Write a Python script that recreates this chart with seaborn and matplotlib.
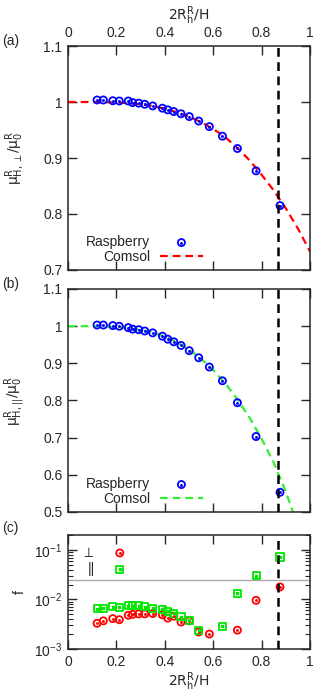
"""Raspberry vs Comsol hydrodynamic mobility of a confined raspberry particle."""
import matplotlib

matplotlib.use("Agg")
import matplotlib.pyplot as plt
import numpy as np
import seaborn as sns
from matplotlib.legend_handler import HandlerTuple

sns.set_style("ticks")
plt.rcParams.update({
    "font.family": ["Liberation Sans", "DejaVu Sans"],
    "font.size": 10,
    "mathtext.fontset": "dejavusans",
    "axes.linewidth": 1.1,
    "xtick.direction": "in",
    "ytick.direction": "in",
    "xtick.major.size": 6.5,
    "ytick.major.size": 6.5,
    "xtick.minor.size": 3.5,
    "ytick.minor.size": 3.5,
    "xtick.major.width": 1.0,
    "ytick.major.width": 1.0,
    "ytick.minor.width": 0.8,
    "xtick.major.pad": 4,
    "ytick.major.pad": 4,
})

BLUE = "#0000ff"
RED = "#ff0000"
GREEN = "#00e600"
LIGHT_GREEN = "#33ee33"

# --- data -----------------------------------------------------------------
ratio = [0.12, 0.146, 0.185, 0.212, 0.249, 0.267, 0.292, 0.317, 0.35, 0.39,
         0.412, 0.437, 0.467, 0.501, 0.54, 0.584, 0.638, 0.70, 0.777, 0.876]
mu_perp = [1.0036, 1.0036, 1.0023, 1.0018, 1.0018, 0.999, 0.998, 0.996, 0.993, 0.989,
           0.986, 0.983, 0.979, 0.974, 0.966, 0.956, 0.939, 0.917, 0.877, 0.815]
mu_par = [1.003, 1.003, 1.0015, 0.9997, 0.996, 0.992, 0.9905, 0.987, 0.982, 0.973,
          0.965, 0.958, 0.948, 0.934, 0.915, 0.890, 0.853, 0.794, 0.703, 0.553]
f_perp = [0.0033, 0.0037, 0.0041, 0.0039, 0.0048, 0.0050, 0.0051, 0.0051, 0.0052, 0.0049,
          0.0042, 0.0046, 0.0035, 0.0037, 0.0022, 0.0020, np.nan, 0.0024, 0.0096, 0.0179]
f_par = [0.0065, 0.0067, 0.0071, 0.0070, 0.0075, 0.0074, 0.0074, 0.0072, 0.0067, 0.0063,
         0.0058, 0.0053, 0.0045, 0.0038, 0.0024, np.nan, 0.0029, 0.0133, 0.030, 0.072]

comsol_x = [0.0, 0.05, 0.1, 0.15, 0.2, 0.25, 0.3, 0.35, 0.4, 0.45, 0.5,
            0.55, 0.6, 0.65, 0.7, 0.75, 0.8, 0.85, 0.9, 0.95, 1.0]
comsol_perp = [1.0, 1.0, 1.0, 0.9997, 0.999, 0.998, 0.996, 0.993, 0.988, 0.982, 0.974,
               0.964, 0.952, 0.937, 0.918, 0.896, 0.870, 0.842, 0.810, 0.774, 0.733]
comsol_par = [1.0, 1.0, 0.9998, 0.999, 0.998, 0.995, 0.990, 0.983, 0.972, 0.957, 0.937,
              0.912, 0.882, 0.846, 0.803, 0.754, 0.697, 0.633, 0.555, 0.46, 0.36]

x_limit = 0.866      # dashed vertical marker
f_threshold = 0.025  # grey horizontal reference

xticks = [0, 0.2, 0.4, 0.6, 0.8, 1]
xticklabels = ["0", "0.2", "0.4", "0.6", "0.8", "1"]
yticks_a = [0.7, 0.8, 0.9, 1.0, 1.1]
yticklabels_a = ["0.7", "0.8", "0.9", "1", "1.1"]
yticks_b = [0.5, 0.6, 0.7, 0.8, 0.9, 1.0, 1.1]
yticklabels_b = ["0.5", "0.6", "0.7", "0.8", "0.9", "1", "1.1"]

XLABEL = r"$\mathrm{2R^{R}_{h}/H}$"
DASH = (0, (3.5, 2.2))

fig = plt.figure(figsize=(3.13, 6.93), dpi=100)
ax_a = fig.add_axes([0.2173, 0.6104, 0.7732, 0.3232])
ax_b = fig.add_axes([0.2173, 0.2612, 0.7732, 0.3218])
ax_c = fig.add_axes([0.2173, 0.0635, 0.7732, 0.1645])


def mobility_panel(ax, mu, comsol, line_color, yticks, yticklabels, ylabel):
    sns.lineplot(x=comsol_x, y=comsol, color=line_color, lw=1.6, linestyle=DASH,
                 ax=ax, label="Comsol")
    pts = ax.scatter(ratio, mu, s=26, facecolors="none", edgecolors=BLUE,
                     linewidths=1.3, zorder=3)
    dots = ax.scatter(ratio, mu, s=1.2, color=BLUE, zorder=4)
    ax.axvline(x_limit, color="black", lw=1.8, linestyle=DASH, zorder=5)
    ax.set_xlim(0, 1)
    ax.set_ylim(yticks[0], yticks[-1])
    ax.set_xticks(xticks)
    ax.set_yticks(yticks)
    ax.set_yticklabels(yticklabels)
    ax.tick_params(top=True, right=True)
    ax.set_ylabel(ylabel, fontsize=10)
    ax.yaxis.set_label_coords(-0.17, 0.5)
    line = ax.get_lines()[0]
    ax.legend([(pts, dots), line], ["Raspberry", "Comsol"],
              handler_map={tuple: HandlerTuple(ndivide=1)},
              markerfirst=False, frameon=False, loc="lower right",
              bbox_to_anchor=(0.592, -0.01), handlelength=3.1,
              handletextpad=0.7, labelspacing=0.05, borderaxespad=0.2)


mobility_panel(ax_a, mu_perp, comsol_perp, RED, yticks_a, yticklabels_a,
               r"$\mathrm{\mu^{R}_{H,\perp}/\mu^{R}_{0}}$")
ax_a.xaxis.set_label_position("top")
ax_a.tick_params(labeltop=True, labelbottom=False)
ax_a.set_xticklabels(xticklabels)
ax_a.set_xlabel(XLABEL, fontsize=10, labelpad=5)

mobility_panel(ax_b, mu_par, comsol_par, LIGHT_GREEN, yticks_b, yticklabels_b,
               r"$\mathrm{\mu^{R}_{H,||}/\mu^{R}_{0}}$")
ax_b.tick_params(labelbottom=False)
ax_b.set_xlabel("")

# --- panel (c): relative deviation ----------------------------------------
ax_c.axhline(f_threshold, color="#aaaaaa", lw=1.0, zorder=1)
ax_c.axvline(x_limit, color="black", lw=1.8, linestyle=DASH, zorder=5)
c_perp = ax_c.scatter(ratio, f_perp, s=26, facecolors="none", edgecolors=RED,
                      linewidths=1.3, zorder=3)
c_perp_dot = ax_c.scatter(ratio, f_perp, s=1.2, color=RED, zorder=4)
c_par = ax_c.scatter(ratio, f_par, s=26, marker="s", facecolors="none",
                     edgecolors=GREEN, linewidths=1.3, zorder=3)
c_par_dot = ax_c.scatter(ratio, f_par, s=1.2, marker="s", color=GREEN, zorder=4)
ax_c.set_yscale("log")
ax_c.set_xlim(0, 1)
ax_c.set_ylim(1e-3, 0.2)
ax_c.set_xticks(xticks)
ax_c.set_xticklabels(xticklabels)
ax_c.set_yticks([1e-3, 1e-2, 1e-1])
ax_c.tick_params(top=True, right=True)
ax_c.tick_params(which="minor", left=True, right=True)
ax_c.set_ylabel("f", fontsize=10)
ax_c.yaxis.set_label_coords(-0.17, 0.5)
ax_c.set_xlabel(XLABEL, fontsize=10, labelpad=1)
ax_c.legend([(c_perp, c_perp_dot), (c_par, c_par_dot)], [r"$\perp$", "||"],
            handler_map={tuple: HandlerTuple(ndivide=1)},
            markerfirst=False, frameon=False, loc="upper left",
            bbox_to_anchor=(0.02, 0.98), handlelength=2.4, handletextpad=0.6,
            labelspacing=0.15, borderaxespad=0.2)

for label, ypix in [("(a)", 41), ("(b)", 284), ("(c)", 528)]:
    fig.text(2 / 313, 1 - ypix / 693, label, fontsize=10, va="center", ha="left")

fig.savefig("out.png", dpi=100)
plt.close(fig)
